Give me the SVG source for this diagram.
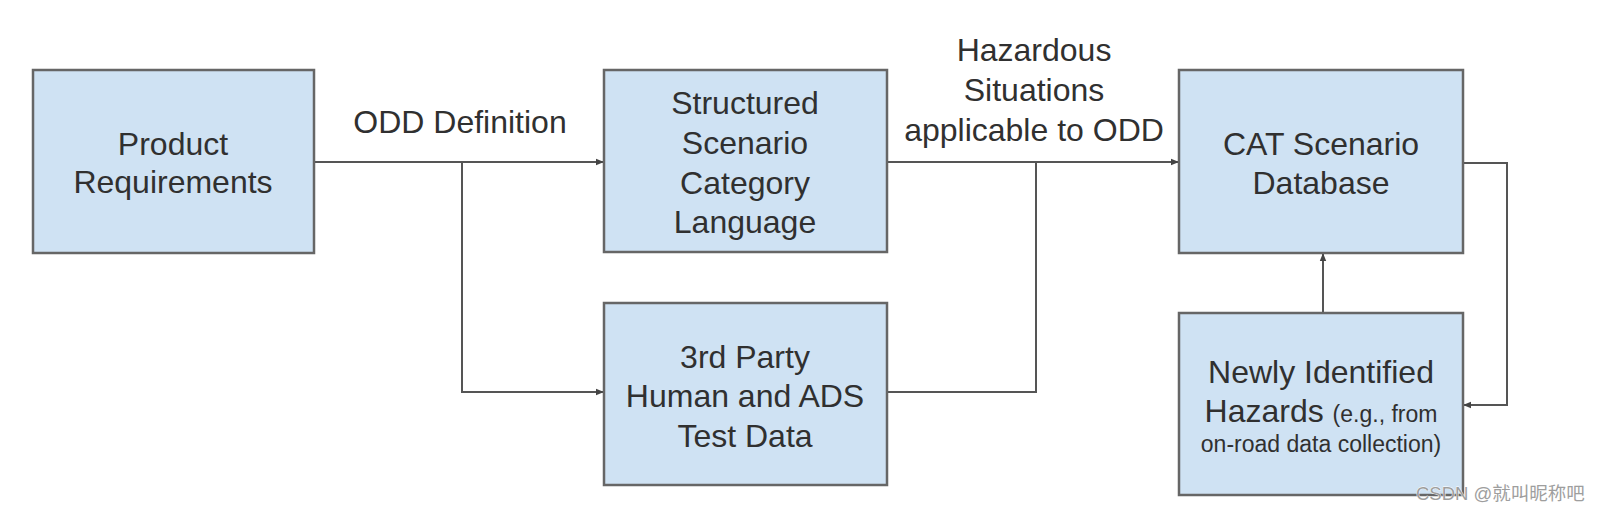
<svg xmlns="http://www.w3.org/2000/svg" width="1604" height="514" viewBox="0 0 1604 514">
<style>
.box{fill:#cfe2f3;stroke:#666;stroke-width:2.5}
.t{font-family:"Liberation Sans",Arial,sans-serif;font-size:32px;fill:#303030;text-anchor:middle}
.s{font-size:23px}
.c{fill:none;stroke:#555;stroke-width:2}
.wm{font-family:"Liberation Sans","Noto Sans CJK SC",sans-serif;font-size:18.5px;fill:#9e9e9e;stroke:#fff;stroke-width:0.8;paint-order:stroke}
</style>
<defs>
<marker id="ah" viewBox="0 0 10 10" refX="10" refY="5" markerWidth="4" markerHeight="4" orient="auto" markerUnits="strokeWidth">
<path d="M0,1 L10,5 L0,9 z" fill="#444"/>
</marker>
</defs>
<rect width="1604" height="514" fill="#fff"/>
<g id="connectors">
<path class="c" d="M314,162 H604" marker-end="url(#ah)"/>
<path class="c" d="M462,162 V392 H604" marker-end="url(#ah)"/>
<path class="c" d="M887,162 H1179" marker-end="url(#ah)"/>
<path class="c" d="M887,392 H1036 V162"/>
<path class="c" d="M1323,313 V253" marker-end="url(#ah)"/>
<path class="c" d="M1463,163 H1507 V405 H1463" marker-end="url(#ah)"/>
<text class="t" x="460" y="133">ODD Definition</text>
<text class="t" x="1034" y="61">Hazardous</text>
<text class="t" x="1034" y="101">Situations</text>
<text class="t" x="1034" y="141">applicable to ODD</text>
</g>
<g id="product">
<rect class="box" x="33" y="70" width="281" height="183"/>
<text class="t" x="173" y="155">Product</text>
<text class="t" x="173" y="193">Requirements</text>
</g>
<g id="structured">
<rect class="box" x="604" y="70" width="283" height="182"/>
<text class="t" x="745" y="114">Structured</text>
<text class="t" x="745" y="154">Scenario</text>
<text class="t" x="745" y="194">Category</text>
<text class="t" x="745" y="233">Language</text>
</g>
<g id="thirdparty">
<rect class="box" x="604" y="303" width="283" height="182"/>
<text class="t" x="745" y="368">3rd Party</text>
<text class="t" x="745" y="407">Human and ADS</text>
<text class="t" x="745" y="447">Test Data</text>
</g>
<g id="cat">
<rect class="box" x="1179" y="70" width="284" height="183"/>
<text class="t" x="1321" y="155">CAT Scenario</text>
<text class="t" x="1321" y="194">Database</text>
</g>
<g id="newly">
<rect class="box" x="1179" y="313" width="284" height="182"/>
<text class="t" x="1321" y="383">Newly Identified</text>
<text class="t" x="1321" y="422">Hazards <tspan class="s">(e.g., from</tspan></text>
<text class="t s" x="1321" y="452">on-road data collection)</text>
</g>
<text class="wm" x="1416" y="500">CSDN @就叫昵称吧</text>
</svg>
